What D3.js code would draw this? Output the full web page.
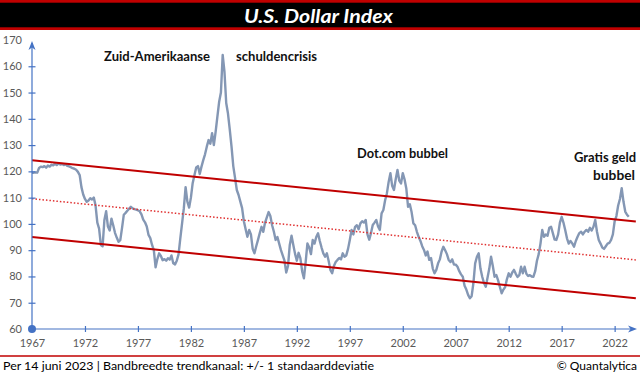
<!DOCTYPE html>
<html><head><meta charset="utf-8">
<script src="https://cdn.jsdelivr.net/npm/d3@7"></script>
<style>body{margin:0;background:#fff}svg{display:block;font-family:Lato,'Open Sans',sans-serif}</style>
</head><body><svg id="c" width="640" height="375"></svg>
<script>
// ---- data ----
const startYear = 1967, pointsPerYear = 6;   // bimonthly readings
const usdx = [
119.5,119.5,119.6,119.5,121.3,121.8, // 1967
121.6,122.0,121.4,122.2,121.8,122.5, // 1968
122.3,122.9,122.4,123.0,122.6,122.8, // 1969
122.4,122.7,122.1,121.9,121.6,121.2, // 1970
121.0,120.6,119.8,118.6,114.0,111.2, // 1971
109.5,108.4,108.9,109.8,109.3,110.0, // 1972
107.0,100.5,98.2,92.0,91.5,101.5,    // 1973
104.8,99.0,97.5,102.0,99.5,96.6,     // 1974
94.8,93.2,93.8,98.5,103.5,104.2,     // 1975
105.0,105.8,106.5,105.9,105.6,105.4, // 1976
105.2,104.8,103.6,101.6,100.6,99.0,  // 1977
95.8,94.6,92.0,90.0,83.5,86.6,       // 1978
88.8,87.8,86.2,86.6,86.0,86.9,       // 1979
86.4,88.0,85.0,84.6,86.0,88.4,       // 1980
94.5,100.2,106.0,114.0,108.5,106.2,  // 1981
110.0,115.5,118.5,121.5,122.0,119.0, // 1982
121.8,124.3,126.5,129.4,131.9,130.5, // 1983
134.5,130.0,135.0,140.8,146.5,150.0, // 1984
164.3,158.0,146.0,142.0,136.0,129.5, // 1985
122.0,117.5,112.9,111.0,108.5,106.0, // 1986
101.0,98.0,95.1,97.7,96.0,90.5,      // 1987
88.8,91.5,93.9,96.5,98.9,97.0,       // 1988
100.5,102.5,104.5,103.0,99.5,97.0,   // 1989
93.9,95.0,92.5,90.0,88.0,86.0,       // 1990
81.5,84.0,92.0,95.5,92.0,88.6,       // 1991
86.0,89.0,87.0,82.0,79.3,85.5,       // 1992
92.6,91.0,88.5,93.9,92.5,95.0,       // 1993
96.4,93.5,91.0,88.8,87.5,88.8,       // 1994
86.0,82.5,81.2,84.0,85.5,86.3,       // 1995
87.0,86.5,88.8,87.5,88.0,90.5,       // 1996
93.9,97.7,96.0,98.9,99.5,98.0,       // 1997
100.2,101.0,100.5,101.5,96.0,94.0,   // 1998
96.5,99.6,100.5,101.5,99.0,97.7,     // 1999
104.0,105.3,109.0,111.6,116.0,119.3, // 2000
114.5,112.9,117.0,120.5,116.5,115.4, // 2001
119.3,117.0,113.5,106.5,107.5,104.5, // 2002
100.2,99.5,97.0,95.1,93.5,91.5,      // 2003
90.1,88.0,89.5,86.3,87.0,83.0,       // 2004
81.2,82.5,85.0,86.5,89.5,91.3,       // 2005
90.0,88.5,86.3,85.5,86.5,84.5,       // 2006
84.5,83.7,82.0,80.8,79.9,76.5,       // 2007
75.0,73.0,71.7,72.5,77.4,85.0,       // 2008
87.5,88.8,83.0,79.9,77.5,76.1,       // 2009
79.5,83.0,87.5,84.0,79.9,80.5,       // 2010
78.5,76.0,73.6,75.0,76.0,79.0,       // 2011
81.2,79.9,81.5,82.5,81.0,79.8,       // 2012
80.5,83.7,81.2,83.7,81.0,80.2,       // 2013
80.5,80.0,79.9,82.0,86.0,88.5,       // 2014
92.5,97.7,95.1,96.0,95.5,98.5,       // 2015
98.9,96.5,94.0,93.9,96.0,100.5,      // 2016
102.7,100.5,97.7,94.5,92.5,93.5,     // 2017
92.6,91.3,93.5,95.1,96.5,97.0,       // 2018
96.0,97.0,97.7,97.0,98.5,97.5,       // 2019
98.9,101.5,97.0,93.9,92.5,91.0,      // 2020
90.5,91.5,92.5,92.8,93.9,96.0,       // 2021
101.0,103.0,107.0,109.5,113.6,108.5, // 2022
104.7,103.5,102.7                    // 2023 (tot 14 juni)
];
const xTickYears = [1967,1972,1977,1982,1987,1992,1997,2002,2007,2012,2017,2022];
const yTicks = [60,70,80,90,100,110,120,130,140,150,160,170];
const trendYears = [1967, 2024.0];
const trendMid = [109.6, 86.3];
const bandWidth = 14.6;   // +/- 1 standaarddeviatie
const titleText = "U.S. Dollar Index";
const footLeft = "Per 14 juni 2023 | Bandbreedte trendkanaal: +/- 1 standaarddeviatie";
const footRight = "\u00A9 Quantalytica";

// ---- drawing ----
const svg = d3.select("#c");
const axisBlue = "#4472C4", red = "#C00000", lineCol = "#8497B4", labelGrey = "#595959";
const x = d3.scaleLinear().domain([1967, 2023.45]).range([32, 630]);
const y = d3.scaleLinear().domain([60, 170]).range([329, 40]);

// title bar
svg.append("rect").attr("x",0).attr("y",0).attr("width",640).attr("height",30).attr("fill",red);
svg.append("rect").attr("x",0).attr("y",2.7).attr("width",640).attr("height",24.6).attr("fill","#000");
svg.append("text").attr("x",318.5).attr("y",22.5).attr("text-anchor","middle")
  .attr("fill","#fff").attr("font-weight","bold").attr("font-style","italic")
  .attr("font-size",19).attr("textLength",149).attr("lengthAdjust","spacingAndGlyphs").text(titleText);

// series
const pts = usdx.map((v,i)=>({t:startYear + i/pointsPerYear, v}));
svg.append("path").datum(pts)
  .attr("fill","none").attr("stroke",lineCol).attr("stroke-width",2.4).attr("stroke-linejoin","round")
  .attr("d", d3.line().x(d=>x(d.t)).y(d=>y(d.v)));

// trend channel
const lineGen = d3.line().x(d=>x(d[0])).y(d=>y(d[1]));
const mid = trendYears.map((t,i)=>[t, trendMid[i]]);
const up = trendYears.map((t,i)=>[t, trendMid[i] + bandWidth]);
const lo = trendYears.map((t,i)=>[t, trendMid[i] - bandWidth]);
svg.append("path").attr("d", lineGen(up)).attr("stroke",red).attr("stroke-width",2).attr("fill","none");
svg.append("path").attr("d", lineGen(lo)).attr("stroke",red).attr("stroke-width",2).attr("fill","none");
svg.append("path").attr("d", lineGen(mid)).attr("stroke","#E03030").attr("stroke-width",1.5)
  .attr("stroke-dasharray","1.5,2").attr("fill","none");

// y axis
const yAx = svg.append("g").attr("transform","translate(32,0)")
  .call(d3.axisLeft(y).tickValues(yTicks).tickSize(0).tickFormat(d3.format("d")));
yAx.select(".domain").remove();
yAx.selectAll(".tick text").attr("x",-10).attr("fill",labelGrey).attr("font-size",11)
  .attr("font-family","Lato,'Open Sans',sans-serif");
yAx.selectAll(".tick").filter(d=>d!==170 && d!==60).append("line")
  .attr("x1",-3.5).attr("x2",3.5).attr("stroke",axisBlue).attr("stroke-width",1.2);
svg.append("line").attr("x1",32).attr("x2",32).attr("y1",y(60)).attr("y2",43)
  .attr("stroke",axisBlue).attr("stroke-width",1.2);
svg.append("path").attr("d",`M32,41 L28.5,50 L32,47.5 L35.5,50 Z`).attr("fill",axisBlue);

// x axis
const xAx = svg.append("g").attr("transform",`translate(0,${y(60)})`)
  .call(d3.axisBottom(x).tickValues(xTickYears).tickSize(0).tickFormat(d3.format("d")));
xAx.select(".domain").remove();
xAx.selectAll(".tick text").attr("y",10).attr("dy","0.71em").attr("fill",labelGrey).attr("font-size",11)
  .attr("font-family","Lato,'Open Sans',sans-serif");
xAx.selectAll(".tick").filter(d=>d!==1967).append("line")
  .attr("y1",-3).attr("y2",3).attr("stroke",axisBlue).attr("stroke-width",1.2);
svg.append("line").attr("x1",32).attr("x2",634).attr("y1",y(60)).attr("y2",y(60))
  .attr("stroke",axisBlue).attr("stroke-width",1.2);
svg.append("path").attr("d",`M637,${y(60)} L628,${y(60)-3.5} L630.5,${y(60)} L628,${y(60)+3.5} Z`).attr("fill",axisBlue);
svg.append("circle").attr("cx",32).attr("cy",y(60)).attr("r",4).attr("fill",axisBlue);

// annotations
const ann = [
  {t:"Zuid-Amerikaanse", x:104, y:61, w:106, a:"start"},
  {t:"schuldencrisis", x:236, y:61, w:81, a:"start"},
  {t:"Dot.com bubbel", x:357, y:157.5, w:91, a:"start"},
  {t:"Gratis geld", x:636, y:161.5, w:62, a:"end"},
  {t:"bubbel", x:635, y:180, w:42, a:"end"}
];
svg.selectAll("text.ann").data(ann).enter().append("text").attr("class","ann")
  .attr("x",d=>d.x).attr("y",d=>d.y).attr("text-anchor",d=>d.a)
  .attr("font-weight","bold").attr("font-size",12.5).attr("fill","#111")
  .attr("textLength",d=>d.w).attr("lengthAdjust","spacingAndGlyphs").text(d=>d.t);

// footer
svg.append("line").attr("x1",0).attr("x2",640).attr("y1",356).attr("y2",356).attr("stroke",red).attr("stroke-width",1.6);
svg.append("text").attr("x",3).attr("y",370).attr("font-size",12).attr("fill","#000")
  .attr("textLength",371).attr("lengthAdjust","spacingAndGlyphs").text(footLeft);
svg.append("text").attr("x",637).attr("y",370).attr("text-anchor","end").attr("font-size",12).attr("fill","#000").text(footRight);
</script></body></html>
